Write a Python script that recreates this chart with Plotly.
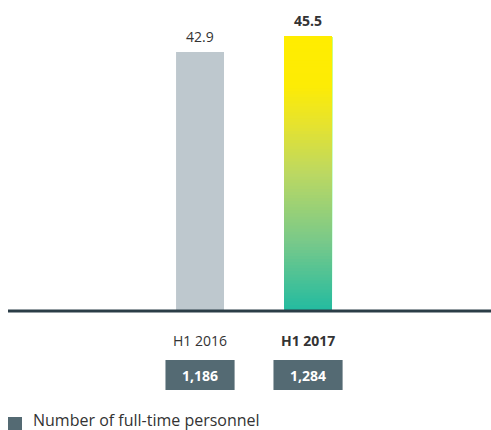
import plotly.graph_objects as go
from plotly.colors import sample_colorscale

categories = ["H1 2016", "H1 2017"]
values = [42.9, 45.5]
value_labels = ["42.9", "45.5"]
personnel = ["1,186", "1,284"]
legend_label = "Number of full-time personnel"

FONT = "'Open Sans', sans-serif"
grad_scale = [[0.0, "#22bba0"], [0.25, "#78c98a"], [0.5, "#bcd862"],
              [0.68, "#e6e32e"], [0.82, "#fdec05"], [1.0, "#ffed00"]]

fig = go.Figure()

# grey bar (H1 2016)
fig.add_trace(go.Bar(x=[categories[0]], y=[values[0]], width=0.444,
                     marker=dict(color="#bec8ce", line=dict(width=0)),
                     showlegend=False, hoverinfo="skip"))

# gradient bar (H1 2017): overlapping slices, each running from its base to the top
n = 90
seg = values[1] / n
fracs = [(i + 0.5) / n for i in range(n)]
cols = sample_colorscale(grad_scale, fracs)
bases = [i * seg for i in range(n)]
fig.add_trace(go.Bar(x=[categories[1]] * n, y=[values[1] - b for b in bases], base=bases,
                     width=0.444, marker=dict(color=cols, line=dict(width=0)),
                     showlegend=False, hoverinfo="skip"))

fig.update_layout(
    width=491, height=430, margin=dict(l=0, r=0, t=0, b=0),
    paper_bgcolor="white", plot_bgcolor="white", barmode="overlay",
    showlegend=False,
    xaxis=dict(type="category", categoryarray=categories, range=[-1.852, 2.694],
               showgrid=False, zeroline=False, showticklabels=False, fixedrange=True),
    yaxis=dict(range=[-19.7, 51.5], showgrid=False, zeroline=False,
               showticklabels=False, fixedrange=True),
)

# baseline
fig.add_shape(type="line", xref="paper", yref="y", x0=8 / 491, x1=1, y0=0, y1=0,
              line=dict(color="#2b3d47", width=3), layer="above")

bold = [False, True]
for i, c in enumerate(categories):
    txt = value_labels[i]
    fig.add_annotation(x=c, y=values[i], yref="y", text=f"<b>{txt}</b>" if bold[i] else txt,
                       showarrow=False, yanchor="bottom", yshift=4,
                       font=dict(family=FONT, size=14, color="#333333"))
    fig.add_annotation(x=c, y=1 - 340 / 430, yref="paper",
                       text=f"<b>{c}</b>" if bold[i] else c,
                       showarrow=False, yanchor="middle",
                       font=dict(family=FONT, size=14, color="#333333"))
    fig.add_shape(type="rect", xref="x", yref="paper", x0=i - 0.32, x1=i + 0.32,
                  y0=1 - 390 / 430, y1=1 - 360 / 430,
                  fillcolor="#546a73", line=dict(width=0))
    fig.add_annotation(x=c, y=1 - 375 / 430, yref="paper", text=f"<b>{personnel[i]}</b>",
                       showarrow=False, yanchor="middle",
                       font=dict(family=FONT, size=14, color="white"))

# legend
fig.add_shape(type="rect", xref="paper", yref="paper", x0=8 / 491, x1=22 / 491,
              y0=0, y1=1 - 417 / 430, fillcolor="#546a73", line=dict(width=0))
fig.add_annotation(x=31 / 491, y=1 - 420 / 430, xref="paper", yref="paper",
                   text=legend_label, showarrow=False, xanchor="left", yanchor="middle",
                   font=dict(family=FONT, size=16, color="#333333"))

fig.write_html("out.html")
